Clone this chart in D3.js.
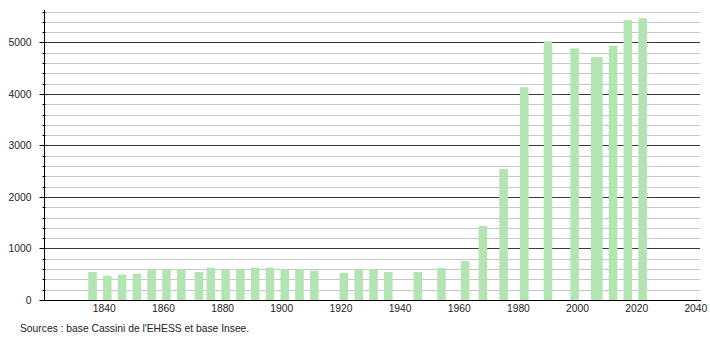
<!DOCTYPE html>
<html>
<head>
<meta charset="utf-8">
<script src="https://cdn.jsdelivr.net/npm/d3@7"></script>
<style>
  body { margin: 0; background: #fff; }
  text { font-family: "Liberation Sans", Arial, sans-serif; }
</style>
</head>
<body>
<div id="chart"></div>
<script>
// census years and population
var years = [1836, 1841, 1846, 1851, 1856, 1861, 1866, 1872, 1876, 1881, 1886, 1891, 1896,
    1901, 1906, 1911, 1921, 1926, 1931, 1936, 1946, 1954, 1962, 1968, 1975, 1982, 1990,
    1999, 2006, 2007, 2012, 2017, 2022];
var population = [544, 472, 492, 511, 596, 596, 596, 544, 628, 596, 596, 628, 628,
    596, 596, 570, 524, 596, 596, 544, 544, 621, 757, 1437, 2544, 4130, 5023,
    4887, 4712, 4720, 4932, 5431, 5470];
var xTicks = [1840, 1860, 1880, 1900, 1920, 1940, 1960, 1980, 2000, 2020, 2040];
var yMajor = [0, 1000, 2000, 3000, 4000, 5000];
var yMinor = d3.range(200, 5601, 200).filter(function (d) { return d % 1000 !== 0; });
var source = "Sources : base Cassini de l'EHESS et base Insee.";

var W = 710, H = 340;
var plotLeft = 44, plotRight = 700, plotTop = 10, plotBottom = 300;
var fontSize = "10.3px";

var svg = d3.select("#chart")
    .append("svg")
    .attr("width", W)
    .attr("height", H);

var x = d3.scaleLinear().domain([1819.6, 2041.4]).range([plotLeft, plotRight]);
var y = d3.scaleLinear().domain([0, 5630]).range([plotBottom, plotTop]);

function py(d) { return Math.round(y(d)) + 0.5; }

// gridlines
svg.append("g").selectAll("line")
    .data(yMinor)
    .enter().append("line")
    .attr("x1", plotLeft).attr("x2", plotRight)
    .attr("y1", py).attr("y2", py)
    .attr("stroke", "#c8c8c8").attr("stroke-width", 1);

svg.append("g").selectAll("line")
    .data(yMajor.filter(function (d) { return d > 0; }))
    .enter().append("line")
    .attr("x1", plotLeft).attr("x2", plotRight)
    .attr("y1", py).attr("y2", py)
    .attr("stroke", "#3a3a3a").attr("stroke-width", 1);

// bars
var half = 1.45;
svg.append("g").selectAll("rect")
    .data(years)
    .enter().append("rect")
    .attr("x", function (d) { return x(d - half); })
    .attr("width", function (d) { return x(d + half) - x(d - half); })
    .attr("y", function (d, i) { return y(population[i]); })
    .attr("height", function (d, i) { return y(0) - y(population[i]); })
    .attr("fill", "#b3e5b3");

// y axis
var yAxis = svg.append("g")
    .attr("transform", "translate(" + (plotLeft + 0.5) + ",0)");
yAxis.append("line")
    .attr("y1", plotTop).attr("y2", plotBottom)
    .attr("stroke", "#000");
yAxis.selectAll(".minor")
    .data(yMinor)
    .enter().append("line")
    .attr("class", "minor")
    .attr("x1", -2).attr("x2", 1)
    .attr("y1", py).attr("y2", py)
    .attr("stroke", "#000");
yAxis.selectAll(".major")
    .data(yMajor)
    .enter().append("line")
    .attr("class", "major")
    .attr("x1", -5).attr("x2", 1)
    .attr("y1", py).attr("y2", py)
    .attr("stroke", "#000");
yAxis.selectAll("text")
    .data(yMajor)
    .enter().append("text")
    .attr("x", -13)
    .attr("y", function (d) { return y(d) + 4; })
    .attr("text-anchor", "end")
    .attr("font-size", fontSize)
    .attr("fill", "#222")
    .text(function (d) { return d; });

// x axis
svg.append("line")
    .attr("x1", plotLeft - 1).attr("x2", plotRight + 1)
    .attr("y1", plotBottom + 0.5).attr("y2", plotBottom + 0.5)
    .attr("stroke", "#000");
svg.append("g").selectAll("text")
    .data(xTicks)
    .enter().append("text")
    .attr("x", function (d) { return x(d); })
    .attr("y", 312)
    .attr("text-anchor", "middle")
    .attr("font-size", fontSize)
    .attr("fill", "#222")
    .text(function (d) { return d; });

// source note
svg.append("text")
    .attr("x", 20)
    .attr("y", 332)
    .attr("font-size", fontSize)
    .attr("fill", "#222")
    .text(source);
</script>
</body>
</html>
